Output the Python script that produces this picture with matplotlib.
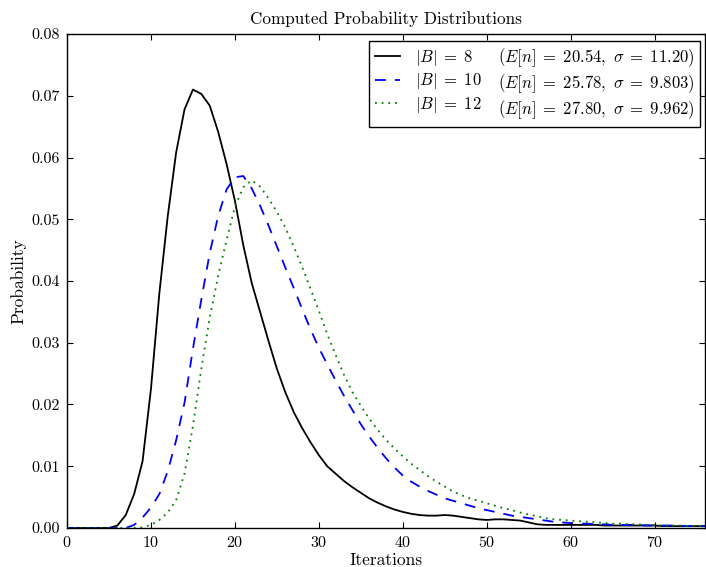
import numpy as np
from matplotlib import pyplot as plt
from matplotlib.lines import Line2D

plt.rcParams['font.family'] = 'cmr10'
plt.rcParams['mathtext.fontset'] = 'cm'
plt.rcParams['axes.formatter.use_mathtext'] = True

iters = np.arange(0, 77)

prob_b8 = [0, 0, 0, 0, 0, 0.0000, 0.0004, 0.0021, 0.0055, 0.0108,
           0.0225, 0.0380, 0.0505, 0.0608, 0.0678, 0.0710, 0.0703, 0.0684, 0.0642, 0.0590,
           0.0530, 0.0458, 0.0397, 0.0350, 0.0303, 0.0258, 0.0220, 0.0188, 0.0162, 0.0139,
           0.0118, 0.0100, 0.0088, 0.0076, 0.0066, 0.0057, 0.0048, 0.0041, 0.0035, 0.0030,
           0.0026, 0.0023, 0.0021, 0.0020, 0.0020, 0.0021, 0.0020, 0.0018, 0.0016, 0.0014,
           0.0013, 0.0014, 0.0014, 0.0013, 0.0012, 0.0009, 0.0006, 0.0005, 0.0005, 0.0005,
           0.0005, 0.0005, 0.0005, 0.0005, 0.0004, 0.0004, 0.0004, 0.0004, 0.0004, 0.0004,
           0.0004, 0.0003, 0.0003, 0.0003, 0.0003, 0.0003, 0.0003]

prob_b10 = [0, 0, 0, 0, 0, 0, 0, 0, 0.0005, 0.0017,
            0.0033, 0.0055, 0.0092, 0.0142, 0.0203, 0.0290, 0.0370, 0.0445, 0.0505, 0.0548,
            0.0568, 0.0570, 0.0550, 0.0522, 0.0490, 0.0456, 0.0422, 0.0389, 0.0355, 0.0322,
            0.0292, 0.0265, 0.0239, 0.0214, 0.0191, 0.0168, 0.0148, 0.0130, 0.0113, 0.0098,
            0.0085, 0.0075, 0.0067, 0.0060, 0.0054, 0.0048, 0.0044, 0.0040, 0.0036, 0.0032,
            0.0029, 0.0026, 0.0023, 0.0020, 0.0018, 0.0016, 0.0014, 0.0012, 0.0010, 0.0009,
            0.0008, 0.0007, 0.0007, 0.0006, 0.0006, 0.0005, 0.0005, 0.0005, 0.0005, 0.0004,
            0.0004, 0.0004, 0.0004, 0.0003, 0.0003, 0.0003, 0.0003]

prob_b12 = [0, 0, 0, 0, 0, 0, 0, 0, 0, 0.0001,
            0.0005, 0.0013, 0.0025, 0.0045, 0.0088, 0.0165, 0.0258, 0.0340, 0.0408, 0.0466,
            0.0520, 0.0552, 0.0563, 0.0553, 0.0534, 0.0512, 0.0487, 0.0456, 0.0423, 0.0388,
            0.0352, 0.0314, 0.0280, 0.0248, 0.0220, 0.0198, 0.0177, 0.0159, 0.0143, 0.0129,
            0.0116, 0.0104, 0.0094, 0.0084, 0.0075, 0.0067, 0.0059, 0.0053, 0.0048, 0.0044,
            0.0040, 0.0036, 0.0032, 0.0029, 0.0025, 0.0022, 0.0019, 0.0016, 0.0014, 0.0013,
            0.0012, 0.0011, 0.0010, 0.0009, 0.0008, 0.0007, 0.0007, 0.0006, 0.0006, 0.0005,
            0.0005, 0.0004, 0.0004, 0.0004, 0.0003, 0.0003, 0.0003]

names = [r'$|B|\;=\;8$', r'$|B|\;=\;10$', r'$|B|\;=\;12$']
stats = [r'$(E[n]\;=\;20.54,\ \sigma\;=\;11.20)$',
         r'$(E[n]\;=\;25.78,\ \sigma\;=\;9.803)$',
         r'$(E[n]\;=\;27.80,\ \sigma\;=\;9.962)$']

fig = plt.figure(figsize=(7.06, 5.67), dpi=100)
ax = fig.add_axes([0.0949, 0.0688, 0.9037, 0.8712])

l1, = ax.plot(iters, prob_b8, color='k', lw=1.3)
l2, = ax.plot(iters, prob_b10, color='b', lw=1.3, linestyle=(0, (6, 5)))
l3, = ax.plot(iters, prob_b12, color='g', lw=1.3, linestyle=(0, (1, 2.7)))

ax.set_xlim(0, 76)
ax.set_ylim(0, 0.08)
ax.set_xticks(range(0, 71, 10))
ax.set_yticks(np.arange(0, 0.081, 0.01))
ax.set_yticklabels(['%.2f' % v for v in np.arange(0, 0.081, 0.01)])
ax.tick_params(direction='in', top=True, right=True, length=4.5, width=0.8, labelsize=11.5, pad=5)
for s in ax.spines.values():
    s.set_linewidth(1.0)

ax.set_xlabel('Iterations', fontsize=12.5, labelpad=2)
ax.set_ylabel('Probability', fontsize=12.5)
ax.set_title('Computed Probability Distributions', fontsize=12.3, pad=7)

blank = [Line2D([], [], linestyle='none') for _ in range(3)]
leg = ax.legend([l1, l2, l3] + blank, names + stats, ncol=2, loc='upper right',
                bbox_to_anchor=(700 / 706, 1 - 40.5 / 567), bbox_transform=fig.transFigure,
                fontsize=12, handlelength=1.5, handletextpad=0.9, columnspacing=-1.4,
                fancybox=False, edgecolor='k', framealpha=1, borderaxespad=0,
                labelspacing=0.22, borderpad=0.32)
leg.get_frame().set_linewidth(1.0)

fig.savefig('out.png', dpi=100)
